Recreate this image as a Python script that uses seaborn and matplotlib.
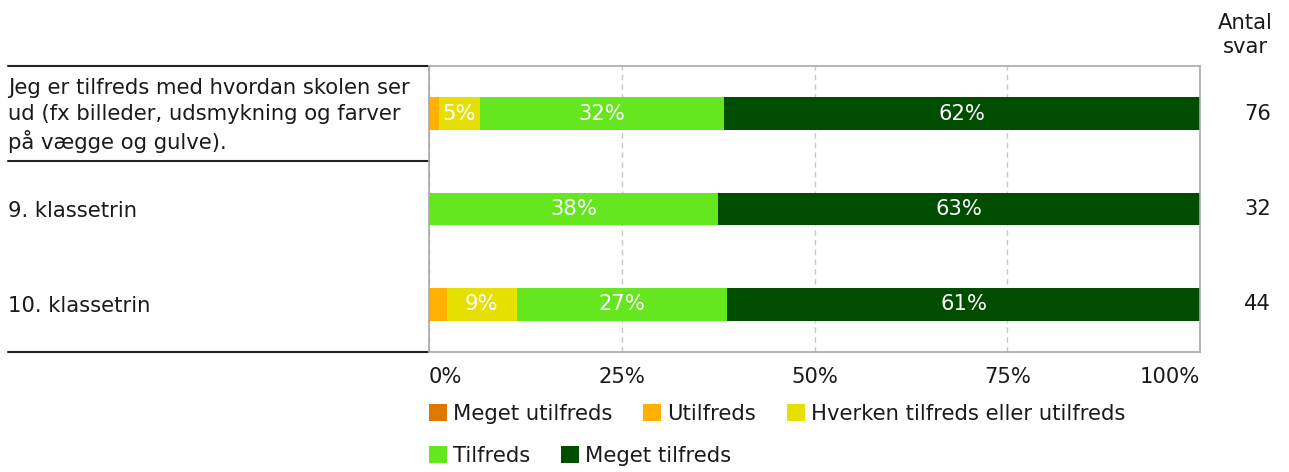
import numpy as np
import pandas as pd
import matplotlib.pyplot as plt
import matplotlib.transforms as mtransforms
from matplotlib.patches import Patch
import seaborn as sns

# Data (percent of answers per row)
row_labels = ['Jeg er tilfreds med hvordan skolen ser\nud (fx billeder, udsmykning og farver\npå vægge og gulve).',
              '9. klassetrin', '10. klassetrin']
row_keys = ['r0', 'r1', 'r2']
antal_svar = [76, 32, 44]
categories = ['Meget utilfreds', 'Utilfreds', 'Hverken tilfreds eller utilfreds', 'Tilfreds', 'Meget tilfreds']
colors = ['#e07800', '#ffb000', '#e6e000', '#66e61e', '#004d00']

meget_utilfreds = [0.0, 0.0, 0.0]
utilfreds = [1.3, 0.0, 2.3]
hverken = [5.3, 0.0, 9.1]
tilfreds = [31.6, 37.5, 27.3]
meget_tilfreds = [61.8, 62.5, 61.4]

sns.set_style('white')
plt.rcParams['font.family'] = ['DejaVu Sans']
plt.rcParams['text.color'] = '#1a1a1a'
plt.rcParams['xtick.color'] = '#1a1a1a'
FS = 15.2

values = np.array([meget_utilfreds, utilfreds, hverken, tilfreds, meget_tilfreds])
cum = values.cumsum(axis=0)

fig = plt.figure(figsize=(12.89, 4.72), dpi=100)
ax = fig.add_axes([429 / 1289, 1 - 352 / 472, 771 / 1289, 286 / 472])

# stacked bars: draw cumulative totals from the right-most segment down
for k in range(len(categories) - 1, -1, -1):
    df = pd.DataFrame({'row': row_keys, 'cum': cum[k]})
    sns.barplot(data=df, x='cum', y='row', orient='h', color=colors[k], saturation=1,
                width=0.34, linewidth=0, ax=ax)

# percent labels inside segments
for k in range(len(categories)):
    for i in range(len(row_keys)):
        v = values[k][i]
        if v >= 4:
            ax.text(cum[k][i] - v / 2, i, f'{int(np.floor(v + 0.5))}%', color='white',
                    ha='center', va='center', fontsize=FS)

ax.set_xlim(0, 100)
ax.set_ylim(2.5, -0.5)
ax.set_xlabel('')
ax.set_ylabel('')
ax.set_yticks([])
ax.set_xticks([0, 25, 50, 75, 100])
ax.set_xticklabels(['0%', '25%', '50%', '75%', '100%'])
for lab, ha in zip(ax.get_xticklabels(), ['left', 'center', 'center', 'center', 'right']):
    lab.set_ha(ha)
ax.tick_params(axis='x', length=0, pad=11, labelsize=FS)
ax.xaxis.grid(True, linestyle=(0, (4, 3)), color='#c8c8c8', lw=1)
ax.set_axisbelow(True)
for sp in ax.spines.values():
    sp.set_visible(True)
    sp.set_color('#a8a8a8')
    sp.set_linewidth(1.2)

# row labels and separators on the left
trans = mtransforms.blended_transform_factory(ax.transAxes, ax.transData)
left = (8 - 429) / 771
for i, lab in enumerate(row_labels):
    ax.text(left, i + 0.02, lab, transform=trans, ha='left', va='center', fontsize=FS, linespacing=1.33)
for y in [-0.5, 0.5, 2.5]:
    ax.plot([left, 0], [y, y], transform=trans, color='#222222', lw=1.5, clip_on=False)

# number of answers column
for i, n in enumerate(antal_svar):
    ax.text((1271 - 429) / 771, i, str(n), transform=trans, ha='right', va='center', fontsize=FS)
fig.text(1245 / 1289, 1 - 35 / 472, 'Antal\nsvar', ha='center', va='center',
         multialignment='center', fontsize=FS, linespacing=1.3)

# legend in two rows
leg_kw = dict(loc='upper left', bbox_transform=fig.transFigure, frameon=False, handlelength=0.85,
              handleheight=0.85, handletextpad=0.3, columnspacing=1.45, borderpad=0,
              borderaxespad=0, fontsize=FS)
h1 = [Patch(facecolor=c, edgecolor='none') for c in colors[:3]]
leg1 = ax.legend(h1, categories[:3], ncol=3, bbox_to_anchor=(429 / 1289, 1 - 404 / 472), **leg_kw)
ax.add_artist(leg1)
h2 = [Patch(facecolor=c, edgecolor='none') for c in colors[3:]]
ax.legend(h2, categories[3:], ncol=2, bbox_to_anchor=(429 / 1289, 1 - 446 / 472), **leg_kw)

fig.savefig('out.png', dpi=100)
